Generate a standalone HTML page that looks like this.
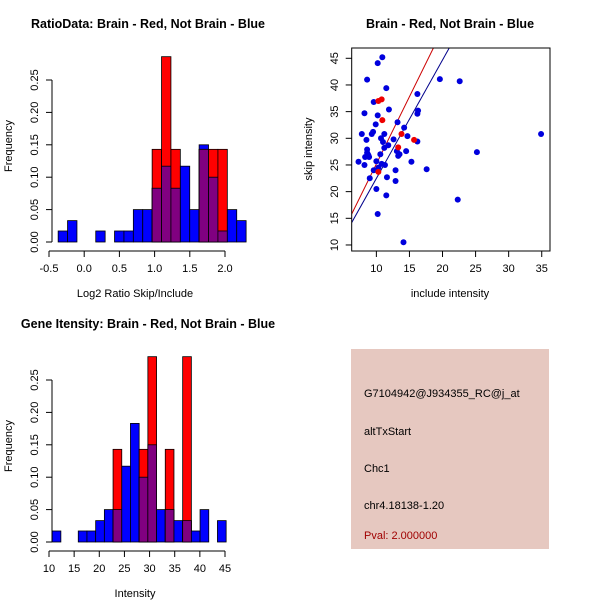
<!DOCTYPE html>
<html><head><meta charset="utf-8"><style>
body{margin:0;background:#fff}
svg{display:block;font-family:"Liberation Sans",sans-serif}
</style></head><body>
<svg id="c" width="600" height="600" viewBox="0 0 600 600">
<rect width="600" height="600" fill="#fff"/>
<rect x="351" y="349" width="198" height="200" fill="#e6c8c0"/>
<text x="364" y="397" font-size="11">G7104942@J934355_RC@j_at</text>
<text x="364" y="435" font-size="11">altTxStart</text>
<text x="364" y="472" font-size="11">Chc1</text>
<text x="364" y="509" font-size="11">chr4.18138-1.20</text>
<text x="364" y="539" font-size="11" fill="#a00000">Pval: 2.000000</text>
</svg>
<script>
// Histogram 1 data
const h1Start = -0.37, h1Width = 0.1335;
const h1Blue = [0.017,0.033,0,0,0.017,0,0.017,0.017,0.05,0.05,0.083,0.117,0.083,0.117,0.05,0.15,0.1,0.017,0.05,0.033];
const h1Red  = [0,0,0,0,0,0,0,0,0,0,0.143,0.286,0.143,0,0,0.143,0.143,0.143,0,0];
const h1XTicks = [-0.5,0,0.5,1,1.5,2];
const h1XLabels = ["-0.5","0.0","0.5","1.0","1.5","2.0"];
const yTicks = [0,0.05,0.1,0.15,0.2,0.25];
const yLabels = ["0.00","0.05","0.10","0.15","0.20","0.25"];
// Histogram 2 data
const h2Start = 10.63, h2Width = 1.73;
const h2Blue = [0.017,0,0,0.017,0.017,0.033,0.05,0.05,0.117,0.183,0.1,0.15,0.05,0.05,0.033,0.033,0.017,0.05,0,0.033];
const h2Red  = [0,0,0,0,0,0,0,0.143,0,0,0.143,0.286,0,0.143,0,0.286,0,0,0,0];
const h2XTicks = [10,15,20,25,30,35,40,45];
// Scatter data
const blueX = [7.3,7.8,8.2,8.2,8.3,8.5,8.6,8.6,8.7,8.8,8.6,8.9,9,9.3,9.5,9.6,9.6,9.9,10,10,10.2,10.2,10.2,10.3,10.6,10.7,10.8,10.9,11,11.2,11.2,11.3,11.5,11.5,11.6,11.8,11.9,12.6,12.9,12.9,13.1,13.2,13.3,13.5,14.1,14.2,14.5,14.7,15.3,16.2,16.2,16.3,16.2,17.6,19.6,22.3,22.6,25.2,34.9];
const blueY = [25.6,30.8,34.7,25,26.5,29.7,27.9,27.3,27,26.8,41,26.5,22.5,30.8,31.2,24,36.8,32.6,25.7,20.5,34.3,44.1,15.8,24.5,27,30,25.2,45.2,29.3,30.8,28.2,25,39.4,19.3,22.7,28.7,35.4,29.8,24,22,27.6,33,26.7,27,10.5,32,27.6,30.4,25.6,38.3,34.6,35.2,29.4,24.2,41.1,18.5,40.7,27.4,30.8];
const redX = [10.3,10.8,10.9,10.3,13.8,13.3,15.7];
const redY = [37,37.3,33.4,23.7,30.8,28.3,29.7];
const redFit = [0.0, 2.52];   // intercept, slope
const blueFit = [0.28, 2.22];
const sXTicks = [10,15,20,25,30,35];
const sYTicks = [10,15,20,25,30,35,40,45];

const svg = document.getElementById('c');
const NS = 'http://www.w3.org/2000/svg';
function mk(tag, attrs, parent){
  const e = document.createElementNS(NS, tag);
  for (const k in attrs) e.setAttribute(k, attrs[k]);
  (parent||svg).appendChild(e); return e;
}
function txt(x,y,s,size,opts,parent){
  const t = mk('text', Object.assign({x:x,y:y,'font-size':size,'text-anchor':'middle'}, opts||{}), parent);
  t.textContent = s; return t;
}

function histogram(name, oy, start, width, blue, red, xTicks, xLabels, xmin, xmax, title, xlab){
  const g = mk('g', {});
  
  
  const xs = v => 49 + (v - xmin) / (xmax - xmin) * 176;
  const ys = v => oy + 242 - v * 648;
  for (let i = 0; i < blue.length; i++) {
    const x0 = xs(start + i*width), x1 = xs(start + (i+1)*width);
    const b = blue[i], r = red[i];
    if (b > 0) { const e = mk('rect', {x:x0, y:ys(b), width:x1-x0, height:ys(0)-ys(b), fill:'#0000ff', stroke:'#000', 'stroke-width':0.8}, g);
      
       }
    if (r > 0) { const e = mk('rect', {x:x0, y:ys(r), width:x1-x0, height:ys(0)-ys(r), fill:'#ff0000', stroke:'#000', 'stroke-width':0.8}, g);
      
       }
    const m = Math.min(b, r);
    if (m > 0) { const e = mk('rect', {x:x0, y:ys(m), width:x1-x0, height:ys(0)-ys(m), fill:'#800080', stroke:'#000', 'stroke-width':0.8}, g);
      
       }
  }
  mk('line', {x1:52, x2:52, y1:ys(0), y2:ys(0.25), stroke:'#000'}, g);
  yTicks.forEach((v,i)=>{
    mk('line', {x1:52, x2:46, y1:ys(v), y2:ys(v), stroke:'#000'}, g);
    txt(0,0,yLabels[i],11,{transform:`translate(38,${ys(v)}) rotate(-90)`},g);
  });
  mk('line', {x1:xs(xTicks[0]), x2:xs(xTicks[xTicks.length-1]), y1:oy+251, y2:oy+251, stroke:'#000'}, g);
  xTicks.forEach((v,i)=>{
    mk('line', {x1:xs(v), x2:xs(v), y1:oy+251, y2:oy+257, stroke:'#000'}, g);
    txt(xs(v), oy+272, xLabels[i], 11, {}, g);
  });
  txt(148, oy+28, title, 12.5, {'font-weight':'bold'}, g);
  txt(135, oy+297, xlab, 11, {}, g);
  txt(0,0,'Frequency',11,{transform:`translate(12,${oy+146}) rotate(-90)`},g);
}
histogram('ratio-histogram', 0, h1Start, h1Width, h1Blue, h1Red, h1XTicks, h1XLabels, -0.5, 2.0,
  'RatioData: Brain - Red, Not Brain - Blue', 'Log2 Ratio Skip/Include');
histogram('intensity-histogram', 300, h2Start, h2Width, h2Blue, h2Red, h2XTicks, h2XTicks.map(String), 10, 45,
  'Gene Itensity: Brain - Red, Not Brain - Blue', 'Intensity');

(function(){
  const g = mk('g', {});
  
  
  const X0 = 351.7, X1 = 550, Y0 = 48, Y1 = 251;
  const xmin = 6.27, xmax = 36.25, ymin = 8.87, ymax = 46.93;
  const xs = v => X0 + (v - xmin)/(xmax - xmin)*(X1-X0);
  const ys = v => Y1 - (v - ymin)/(ymax - ymin)*(Y1-Y0);
  const cp = mk('clipPath', {id:'sc'}, g);
  mk('rect', {x:X0, y:Y0, width:X1-X0, height:Y1-Y0}, cp);
  [[redFit,'#cc0000','red-fit-line'],[blueFit,'#00008b','blue-fit-line']].forEach(([f,c,n])=>{
    const l = mk('line', {x1:xs(xmin), y1:ys(f[0]+f[1]*xmin), x2:xs(xmax), y2:ys(f[0]+f[1]*xmax), stroke:c, 'stroke-width':1, 'clip-path':'url(#sc)'}, g);
    
    
  });
  blueX.forEach((x,i)=>{
    const p = mk('circle', {cx:xs(x), cy:ys(blueY[i]), r:3, fill:'#0000dd'}, g);
    
    
  });
  redX.forEach((x,i)=>{
    const p = mk('circle', {cx:xs(x), cy:ys(redY[i]), r:3, fill:'#ee0000'}, g);
    
    
  });
  mk('rect', {x:X0, y:Y0, width:X1-X0, height:Y1-Y0, fill:'none', stroke:'#000'}, g);
  sXTicks.forEach(v=>{
    mk('line', {x1:xs(v), x2:xs(v), y1:Y1, y2:Y1+6, stroke:'#000'}, g);
    txt(xs(v), 272, String(v), 11, {}, g);
  });
  sYTicks.forEach(v=>{
    mk('line', {x1:X0, x2:X0-6, y1:ys(v), y2:ys(v), stroke:'#000'}, g);
    txt(0,0,String(v),11,{transform:`translate(338,${ys(v)}) rotate(-90)`},g);
  });
  txt(450, 28, 'Brain - Red, Not Brain - Blue', 12.5, {'font-weight':'bold'}, g);
  txt(450, 297, 'include intensity', 11, {}, g);
  txt(0,0,'skip intensity',11,{transform:`translate(312,149) rotate(-90)`},g);
})();
</script>
</body></html>
